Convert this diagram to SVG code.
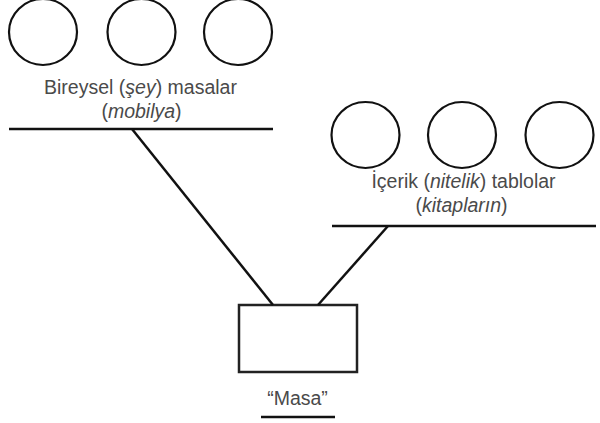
<svg xmlns="http://www.w3.org/2000/svg" width="600" height="423" viewBox="0 0 600 423">
<style>
.c{fill:none;stroke:#111;stroke-width:2.2}
.l{stroke:#111;stroke-width:2.5}
.t{font-family:"Liberation Sans",Arial,sans-serif;font-size:19.5px;fill:#4a4a4a;text-anchor:middle}
</style>
<rect width="600" height="423" fill="#fff"/>
<g id="group-left">
<ellipse class="c" cx="43" cy="32" rx="34" ry="33"/>
<ellipse class="c" cx="141.5" cy="32" rx="34" ry="33"/>
<ellipse class="c" cx="238" cy="32" rx="34" ry="33"/>
<text class="t" x="140.5" y="94">Bireysel (<tspan font-style="italic">şey</tspan>) masalar</text>
<text class="t" x="141.5" y="118">(<tspan font-style="italic">mobilya</tspan>)</text>
<line class="l" x1="9" y1="129" x2="273" y2="129"/>
</g>
<g id="group-right">
<ellipse class="c" cx="365.5" cy="135" rx="34" ry="33"/>
<ellipse class="c" cx="462" cy="135" rx="34" ry="33"/>
<ellipse class="c" cx="559.5" cy="135" rx="34" ry="33"/>
<text class="t" x="463.5" y="188">İçerik (<tspan font-style="italic">nitelik</tspan>) tablolar</text>
<text class="t" x="461.5" y="212">(<tspan font-style="italic">kitapların</tspan>)</text>
<line class="l" x1="332" y1="226" x2="596" y2="226"/>
</g>
<g id="masa">
<rect x="239" y="305" width="118" height="67" fill="none" stroke="#222" stroke-width="2.5"/>
<text class="t" x="297.5" y="405">“Masa”</text>
<line class="l" x1="261" y1="417" x2="335" y2="417"/>
</g>
<g id="connectors">
<line class="l" x1="132" y1="129" x2="273" y2="305"/>
<line class="l" x1="388" y1="226" x2="318" y2="305"/>
</g>
</svg>
